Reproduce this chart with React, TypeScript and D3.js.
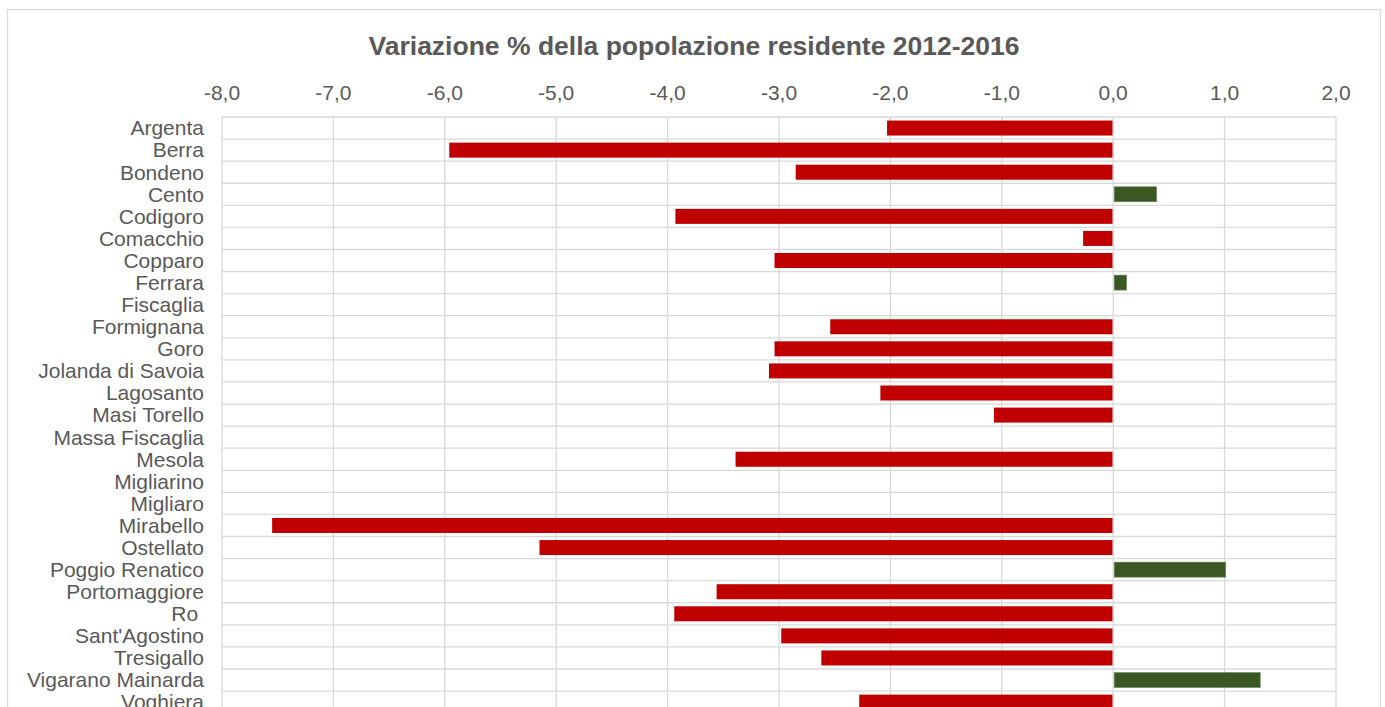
import React, { useEffect, useRef } from 'react';
import * as d3 from 'd3';

// comuni (ordine del grafico, dall'alto)
const comuni = [
  'Argenta', 'Berra', 'Bondeno', 'Cento', 'Codigoro', 'Comacchio', 'Copparo',
  'Ferrara', 'Fiscaglia', 'Formignana', 'Goro', 'Jolanda di Savoia', 'Lagosanto',
  'Masi Torello', 'Massa Fiscaglia', 'Mesola', 'Migliarino', 'Migliaro', 'Mirabello',
  'Ostellato', 'Poggio Renatico', 'Portomaggiore', 'Ro ', "Sant'Agostino",
  'Tresigallo', 'Vigarano Mainarda', 'Voghiera',
];

// variazione % 2012-2016 (null = comune senza dato)
const variazione = [
  -2.03, -5.96, -2.85, 0.39, -3.93, -0.27, -3.04,
  0.12, null, -2.54, -3.04, -3.09, -2.09,
  -1.07, null, -3.39, null, null, -7.55,
  -5.15, 1.01, -3.56, -3.94, -2.98,
  -2.62, 1.32, -2.28,
];

const xTicks = [-8, -7, -6, -5, -4, -3, -2, -1, 0, 1, 2];

const titolo = 'Variazione % della popolazione residente 2012-2016';

const W = 1385;
const H = 707;

const App = () => {
  const anchor = useRef(null);

  useEffect(() => {
    const svg = d3.select(anchor.current);
    svg.selectAll('*').remove();

    const left = 222;
    const right = 1336;
    const top = 117;
    const rowH = 22.08;
    const bottom = top + comuni.length * rowH;

    const x = d3.scaleLinear().domain([-8, 2]).range([left, right]);
    const y = d3
      .scaleBand()
      .domain(comuni)
      .range([top, bottom])
      .paddingInner(0.32)
      .paddingOuter(0.16);

    // bordo esterno
    svg
      .append('rect')
      .attr('x', 7.5)
      .attr('y', 9.5)
      .attr('width', 1373)
      .attr('height', 720)
      .attr('fill', 'white')
      .attr('stroke', '#d9d9d9')
      .attr('stroke-width', 1.3);

    // titolo
    svg
      .append('text')
      .attr('x', 694)
      .attr('y', 55)
      .attr('text-anchor', 'middle')
      .attr('font-family', 'Liberation Sans, Arial, sans-serif')
      .attr('font-size', 26.5)
      .attr('font-weight', 'bold')
      .attr('fill', '#595959')
      .text(titolo);

    const grid = svg.append('g').attr('stroke', '#d9d9d9').attr('stroke-width', 1.3);

    // griglia verticale
    grid
      .selectAll('line.v')
      .data(xTicks)
      .enter()
      .append('line')
      .attr('x1', d => x(d))
      .attr('x2', d => x(d))
      .attr('y1', top)
      .attr('y2', bottom);

    // griglia orizzontale (confini delle categorie)
    const bounds = d3.range(comuni.length + 1).map(i => top + i * rowH);
    grid
      .selectAll('line.h')
      .data(bounds)
      .enter()
      .append('line')
      .attr('x1', left)
      .attr('x2', right)
      .attr('y1', d => d)
      .attr('y2', d => d);

    // etichette asse x (in alto)
    svg
      .append('g')
      .selectAll('text')
      .data(xTicks)
      .enter()
      .append('text')
      .attr('x', d => x(d))
      .attr('y', 100)
      .attr('text-anchor', 'middle')
      .attr('font-family', 'Liberation Sans, Arial, sans-serif')
      .attr('font-size', 21)
      .attr('fill', '#595959')
      .text(d => d.toFixed(1).replace('.', ','));

    // etichette categorie
    svg
      .append('g')
      .selectAll('text')
      .data(comuni)
      .enter()
      .append('text')
      .attr('x', 204)
      .attr('y', d => (y(d) as number) + y.bandwidth() / 2)
      .attr('dy', '0.35em')
      .attr('text-anchor', 'end')
      .attr('font-family', 'Liberation Sans, Arial, sans-serif')
      .attr('font-size', 21)
      .attr('fill', '#595959')
      .style('white-space', 'pre')
      .text(d => d);

    // barre
    const data = comuni
      .map((name, i) => ({ name, value: variazione[i] }))
      .filter(d => d.value !== null);

    svg
      .append('g')
      .selectAll('rect')
      .data(data)
      .enter()
      .append('rect')
      .attr('x', d => (d.value < 0 ? x(d.value) : x(0) + 1))
      .attr('y', d => y(d.name) as number)
      .attr('width', d => (d.value < 0 ? x(0) - 0.7 - x(d.value) : x(d.value) - x(0) - 1))
      .attr('height', y.bandwidth())
      .attr('fill', d => (d.value < 0 ? '#c00000' : '#3b5724'))
      .attr('stroke', d => (d.value < 0 ? 'none' : '#6d8a58'))
      .attr('stroke-width', 0.6);
  }, []);

  return (
    <svg
      ref={anchor}
      width={W}
      height={H}
      style={{ position: 'absolute', left: 0, top: 0, background: 'white' }}
    />
  );
};

export default App;
